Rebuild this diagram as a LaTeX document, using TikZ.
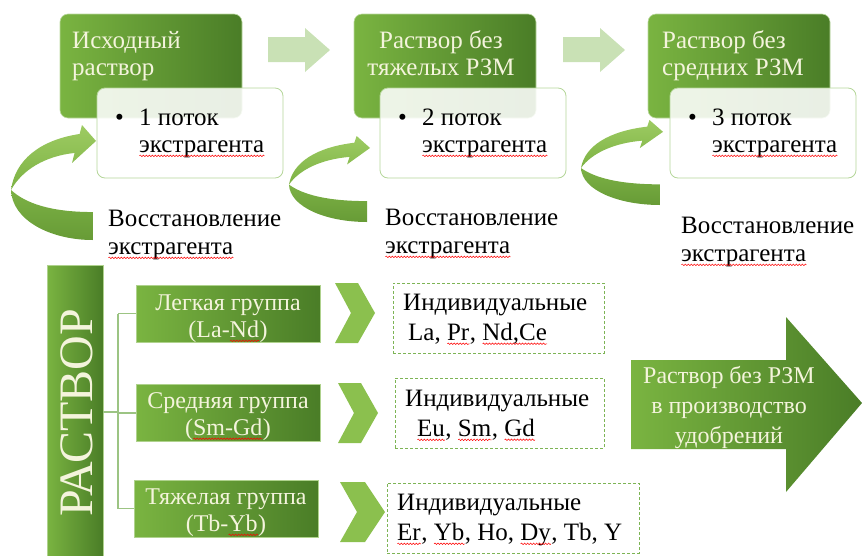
\documentclass[tikz,border=0pt]{standalone}
\usepackage{fontspec}
\setmainfont{Liberation Serif}
\usetikzlibrary{shapes.geometric,decorations.pathmorphing}
\newsavebox\sqbox
\newcommand\sq[1]{\sbox\sqbox{#1}\leavevmode\rlap{\usebox\sqbox}\tikz[baseline=0pt]\draw[red, line width=0.5pt, decorate, decoration={snake, amplitude=0.8pt, segment length=3pt}] (0pt,-3.8pt) -- (\wd\sqbox,-3.8pt);}
\definecolor{gL}{HTML}{7AB441}
\definecolor{gD}{HTML}{4A7D27}
\definecolor{cream}{HTML}{F4F4DC}
\definecolor{bordG}{HTML}{B5D69A}
\definecolor{paleG}{HTML}{C9E1B5}
\definecolor{chevG}{HTML}{8BC04E}
\definecolor{uL}{HTML}{9DCB62}
\definecolor{uD}{HTML}{7DB244}
\definecolor{lL}{HTML}{7CB145}
\definecolor{lD}{HTML}{679B36}
\definecolor{lineG}{HTML}{9CC483}
\definecolor{dashG}{HTML}{7DB455}
\newcommand\recarrow[4]{\begin{scope}[shift={(#1pt,-#2pt)},x=#3pt,y=-#4pt]
\shade[top color=lL, bottom color=lD] (0.012,0.565) .. controls (0.023,0.826) and (0.465,1.0) .. (0.965,1.0) -- (0.965,0.757) .. controls (0.465,0.757) and (0.174,0.678) .. (0.012,0.565) -- cycle;
\shade[top color=uL, bottom color=uD] (0.012,0.565) .. controls (0.058,0.304) and (0.349,0.130) .. (0.81,0.078) -- (0.837,0) -- (1.0,0.139) -- (0.721,0.330) -- (0.751,0.243) .. controls (0.407,0.270) and (0.140,0.391) .. (0.012,0.565) -- cycle;
\end{scope}}
\begin{document}
\begin{tikzpicture}[x=1pt,y=-1pt,
  topbox/.style={rounded corners=8pt, left color=gL, right color=gD, draw=gL!50!white, line width=0.6pt, minimum width=182pt, minimum height=104pt, inner sep=0pt},
  toptext/.style={text=cream, font=\fontsize{25}{27}\selectfont, inner sep=0pt},
  wbox/.style={rounded corners=8pt, draw=bordG, fill=white, fill opacity=0.88, line width=0.8pt, minimum width=186pt, minimum height=90pt, inner sep=0pt},
  btext/.style={text=black, font=\fontsize{25}{27}\selectfont, inner sep=0pt, align=left},
  rtext/.style={text=black, font=\fontsize{25}{28}\selectfont, inner sep=0pt, align=left},
  grpbox/.style={left color=gL, right color=gD, draw=gL!60!white, line width=0.6pt, minimum width=184pt, minimum height=57pt, inner sep=0pt},
  grptext/.style={text=cream, font=\fontsize{24}{27}\selectfont, inner sep=0pt, align=center},
  dbox/.style={draw=dashG, dash pattern=on 3pt off 2pt, line width=0.8pt, inner sep=0pt},
  dtext/.style={text=black, font=\fontsize{25}{29.5}\selectfont, inner sep=0pt, align=left},
  tree/.style={draw=lineG, line width=1.2pt}]
\useasboundingbox (0,0) rectangle (862,555);

% top light arrows
\fill[paleG] (268,37) -- (305,37) -- (305,28) -- (330,50) -- (305,72) -- (305,62) -- (268,62) -- cycle;
\fill[paleG] (563,37) -- (600,37) -- (600,28) -- (625,50) -- (600,72) -- (600,62) -- (563,62) -- cycle;

% top boxes
\node[topbox] (t1) at (151,66) {};
\node[topbox] (t2) at (445,66) {};
\node[topbox] (t3) at (739,66) {};
\node[toptext, anchor=base west, align=left] (t1txt) at (72,75) {Исходный\\раствор};
\node[toptext, anchor=base, align=center] (t2txt) at (441,75) {Раствор без\\тяжелых РЗМ};
\node[toptext, anchor=base west, align=left] (t3txt) at (662,75) {Раствор без\\средних РЗМ};

% white boxes
\node[wbox] (w1) at (190,133) {};
\node[wbox] (w2) at (473,133) {};
\node[wbox] (w3) at (763,133) {};
\node[btext, anchor=base west] (w1txt) at (115,152) {\makebox[24pt][l]{•}1 поток\\\hspace*{24pt}\sq{экстрагента}};
\node[btext, anchor=base west] (w2txt) at (398,152) {\makebox[24pt][l]{•}2 поток\\\hspace*{24pt}\sq{экстрагента}};
\node[btext, anchor=base west] (w3txt) at (688,152) {\makebox[24pt][l]{•}3 поток\\\hspace*{24pt}\sq{экстрагента}};

% recycle arrows
\recarrow{10}{125}{86}{115}
\recarrow{288}{136}{82}{86}
\recarrow{580}{120}{83}{85}

% recovery labels
\node[rtext, anchor=base west] (r1) at (108,254) {Восстановление\\\sq{экстрагента}};
\node[rtext, anchor=base west] (r2) at (385,253) {Восстановление\\\sq{экстрагента}};
\node[rtext, anchor=base west] (r3) at (681,261) {Восстановление\\\sq{экстрагента}};

% big vertical bar
\node[left color=gL, right color=gD, draw=gL!60!white, line width=0.6pt, minimum width=56pt, minimum height=292pt, inner sep=0pt] (bar) at (75,411) {};
\node[rotate=90, text=cream, font=\fontsize{48}{48}\selectfont, inner sep=0pt] (bartxt) at (77,413) {РАСТВОР};

% group boxes
\node[grpbox] (g1) at (228,313.5) {};
\node[grpbox] (g2) at (228,413) {};
\node[grpbox] (g3) at (226,508.5) {};
\node[grptext, anchor=base] (g1txt) at (g1.center |- 0,337) {Легкая группа\\(La-\sq{Nd})};
\node[grptext, anchor=base] (g2txt) at (g2.center |- 0,435) {Средняя группа\\(\sq{Sm-Gd})};
\node[grptext, anchor=base] (g3txt) at (g3.center |- 0,531) {Тяжелая группа\\(Tb-\sq{Yb})};

% tree
\coordinate (tj) at (118,412);
\draw[tree] (bar.east |- tj) -- (tj);
\draw[tree] (tj |- g1.west) -- (tj |- g3.west);
\draw[tree] (tj |- g1.west) -- (g1.west);
\draw[tree] (tj |- g2.west) -- (g2.west);
\draw[tree] (tj |- g3.west) -- (g3.west);

% chevrons
\fill[chevG] (335,283) -- (358,283) -- (375,313) -- (358,343) -- (335,343) -- (351,313) -- cycle;
\fill[chevG] (338,383) -- (361,383) -- (378,413) -- (361,443) -- (338,443) -- (354,413) -- cycle;
\fill[chevG] (340,482) -- (365,482) -- (385,512) -- (365,542) -- (340,542) -- (357,512) -- cycle;

% dashed boxes
\node[dbox, minimum width=211pt, minimum height=70pt] (d1) at (498.5,318) {};
\node[dbox, minimum width=209pt, minimum height=70pt] (d2) at (499.5,413) {};
\node[dbox, minimum width=252pt, minimum height=70pt] (d3) at (513,518) {};
\node[dtext, anchor=base west] (d1txt) at (403,340) {Индивидуальные\\\hspace*{5pt}La, \sq{Pr}, \sq{Nd,Ce}};
\node[dtext, anchor=base west] (d2txt) at (405,436) {Индивидуальные\\\hspace*{12pt}\sq{Eu}, \sq{Sm}, \sq{Gd}};
\node[dtext, anchor=base west] (d3txt) at (397,540) {Индивидуальные\\\sq{Er}, \sq{Yb}, Ho, \sq{Dy}, Tb, Y};

% big output arrow
\shade[left color=gL, right color=gD] (631,360) -- (786,360) -- (786,317) -- (862,403) -- (786,492) -- (786,449) -- (631,449) -- cycle;
\node[text=cream, font=\fontsize{24}{30}\selectfont, align=center, inner sep=0pt, anchor=base] (out) at (729,443) {Раствор без РЗМ\\в производство\\удобрений};
\end{tikzpicture}
\end{document}
